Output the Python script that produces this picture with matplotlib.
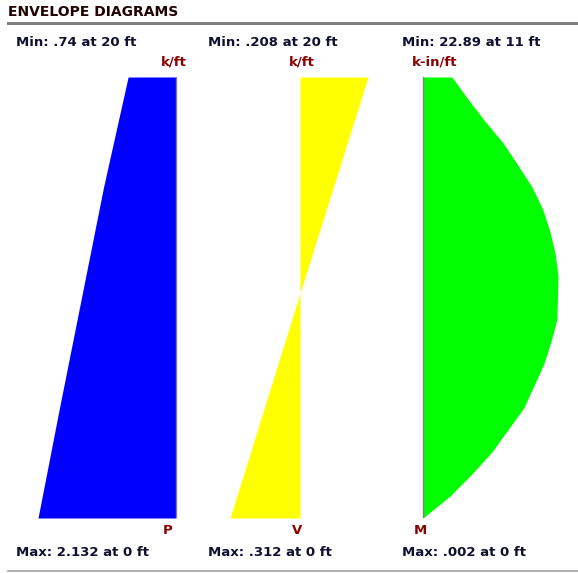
import numpy as np
from matplotlib import pyplot as plt

# depth along member (ft), 0 at bottom, 20 at top
depth_p = [0, 5, 10, 15, 20]
p_vals = [2.132, 1.80, 1.46, 1.12, 0.74]

depth_v = [0, 5, 10, 10.2, 15, 20]
v_vals = [0.312, 0.159, 0.006, 0.0, -0.102, -0.208]

depth_m = [0, 1, 2, 3, 4, 5, 6, 7, 8, 9, 10, 11, 12, 13, 14, 15, 16, 17, 18, 19, 20]
m_vals = [0.002, 4.6, 8.3, 11.7, 14.4, 17.1, 18.8, 20.5, 21.7, 22.7, 22.8, 22.89,
          22.4, 21.5, 20.3, 18.5, 16.1, 13.6, 10.5, 7.6, 4.9]

min_labels = ['Min: .74 at 20 ft', 'Min: .208 at 20 ft', 'Min: 22.89 at 11 ft']
max_labels = ['Max: 2.132 at 0 ft', 'Max: .312 at 0 ft', 'Max: .002 at 0 ft']
unit_labels = ['k/ft', 'k/ft', 'k-in/ft']
names = ['P', 'V', 'M']

W, H = 578, 573
fig = plt.figure(figsize=(W / 100, H / 100), dpi=100)
plt.rcParams['font.family'] = ['DejaVu Sans']


def rect(x0, x1):
    # axes rectangle in pixel coords -> figure fraction; y from depth 20 (77px) to 0 (518px)
    return [x0 / W, (H - 518) / H, (x1 - x0) / W, (518 - 77) / H]


def fx(x):
    return x / W


def fy(y):
    return 1 - y / H


# P diagram: baseline at x=176, positive to the left
ax1 = fig.add_axes(rect(30, 190))
sc = 138 / 2.132
ax1.fill_betweenx(depth_p, 0, p_vals, color='#0000ff', lw=0)
ax1.plot([0, 0], [0, 20], color='#808080', lw=1)
ax1.set_xlim((176 - 30) / sc, -(190 - 176) / sc)
ax1.set_ylim(0, 20)
ax1.axis('off')

# V diagram: baseline at x=300, separate scale each side
ax2 = fig.add_axes(rect(210, 390))
pos, neg = 70 / 0.312, 68 / 0.208


def fwd(v):
    v = np.asarray(v, dtype=float)
    return np.where(v > 0, v * pos, v * neg)


def inv(p):
    p = np.asarray(p, dtype=float)
    return np.where(p > 0, p / pos, p / neg)


ax2.set_xscale('function', functions=(fwd, inv))
ax2.fill_betweenx(depth_v, 0, v_vals, color='#ffff00', lw=0)
ax2.set_xlim(90 / pos, -90 / neg)
ax2.set_ylim(0, 20)
ax2.axis('off')

# M diagram: baseline at x=423, positive to the right
ax3 = fig.add_axes(rect(405, 572))
sm = 135 / 22.89
ax3.fill_betweenx(depth_m, 0, m_vals, color='#00ff00', lw=0)
ax3.plot([0, 0], [0, 20], color='#808080', lw=1)
ax3.set_xlim(-(423 - 405) / sm, (572 - 423) / sm)
ax3.set_ylim(0, 20)
ax3.axis('off')

# title and rules
fig.text(fx(8), fy(12), 'ENVELOPE DIAGRAMS', fontsize=10, fontweight='bold',
         color='#200000', va='center', ha='left')
fig.add_artist(plt.Line2D([fx(8), fx(578)], [fy(23), fy(23)], color='#808080', lw=2.2))
fig.add_artist(plt.Line2D([fx(8), fx(578)], [fy(571), fy(571)], color='#a0a0a0', lw=1.2))

text_x = [16, 208, 402]
unit_x = [187, 315, 412]
unit_ha = ['right', 'right', 'left']
name_x = [168, 297, 420]
for i in range(3):
    fig.text(fx(text_x[i]), fy(43), min_labels[i], fontsize=9.5, fontweight='bold',
             color='#101030', va='center', ha='left')
    fig.text(fx(text_x[i]), fy(552), max_labels[i], fontsize=9.5, fontweight='bold',
             color='#101030', va='center', ha='left')
    fig.text(fx(unit_x[i]), fy(62), unit_labels[i], fontsize=9.5, fontweight='bold',
             color='#8b0000', va='center', ha=unit_ha[i])
    fig.text(fx(name_x[i]), fy(531), names[i], fontsize=9.5, fontweight='bold',
             color='#8b0000', va='center', ha='center')

fig.savefig('out.png', dpi=100)
